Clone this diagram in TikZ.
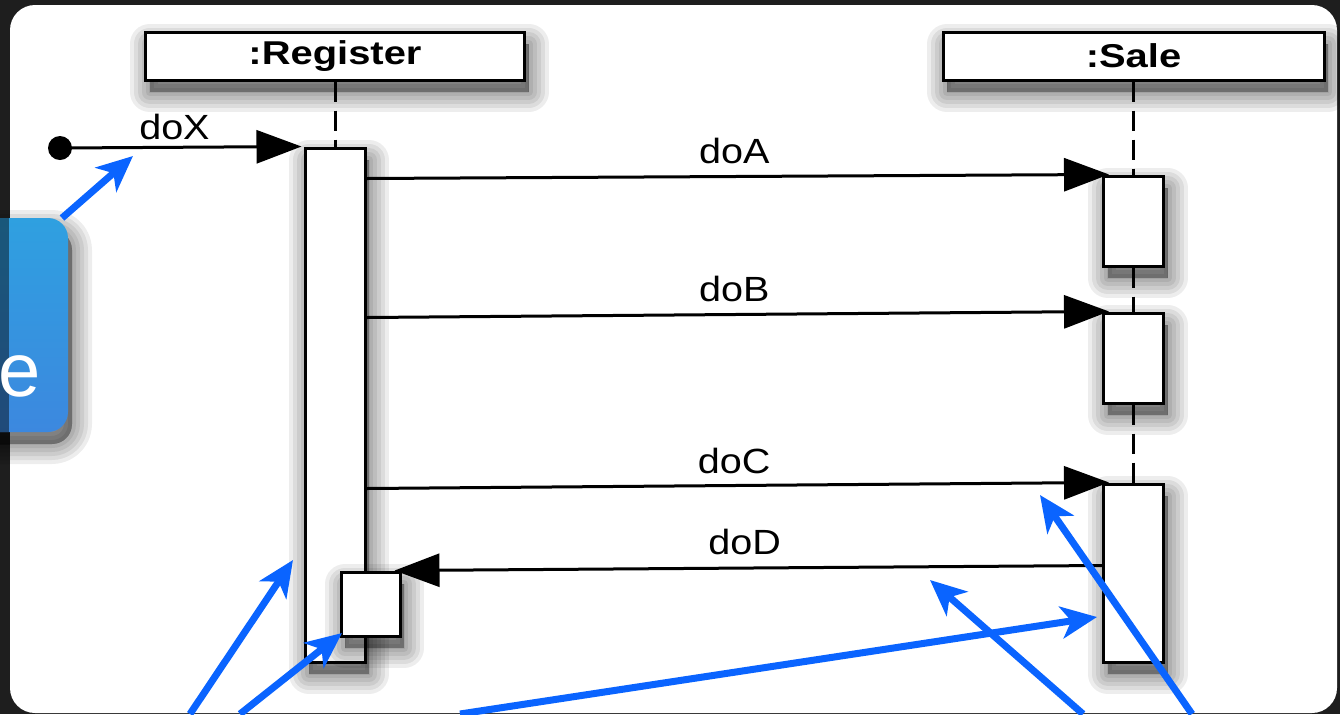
\documentclass[tikz,border=0pt]{standalone}
\usepackage{fontspec}
\setmainfont{Liberation Sans}
\newfontfamily\regf[FakeStretch=1.13]{Liberation Sans}
\newfontfamily\boldf[FakeStretch=1.21]{Liberation Sans}
\usetikzlibrary{arrows.meta,shadows,calc}
\definecolor{bgdark}{HTML}{1E1E1E}
\definecolor{arrblue}{HTML}{0A64FF}
\definecolor{callA}{HTML}{2FA0E0}
\definecolor{callB}{HTML}{3C88DF}
\begin{document}
\begin{tikzpicture}[x=0.5pt,y=-0.5pt,
  sl/.style={general shadow={fill=black, draw=black, line join=round, line width=#1, opacity=0.07, shadow xshift=2pt, shadow yshift=-6pt}},
  shad/.style={sl=20pt, sl=16pt, sl=12pt, sl=8pt, sl=4pt, sl=0.1pt},
  objbox/.style={draw=black, line width=1.5pt, fill=white, minimum height=24pt, inner sep=0pt,
     font=\boldf\bfseries\fontsize{16.5}{18}\selectfont, shad},
  actbox/.style={draw=black, line width=1.5pt, fill=white, inner sep=0pt, minimum width=30pt, shad},
  lifeline/.style={line width=1.5pt, dash pattern=on 10pt off 4.5pt},
  msgline/.style={line width=1.5pt, shorten >=-3.5pt, -{Triangle[length=22.5pt,width=16.5pt]}},
  msglab/.style={font=\regf\fontsize{17.5}{19}\selectfont, inner sep=0pt, anchor=base},
  hint/.style={draw=arrblue, line width=3.5pt, -{Stealth[length=18pt,width=16pt,inset=5pt]}}
]
\useasboundingbox (0,0) rectangle (1340,714);
\fill[bgdark] (0,0) rectangle (1340,714);
\fill[white, rounded corners=12.5pt] (10,5) rectangle (1337,713);

% object boxes
\node[objbox, minimum width=189.5pt] (reg) at (335,56) {:Register};
\node[objbox, minimum width=190.5pt] (sale) at (1133.5,56) {:Sale};

% activation bars
\node[actbox, minimum height=257pt] (rbar) at (335,405) {};
\node[actbox, minimum height=45pt] (actA) at (1133.5,221) {};
\node[actbox, minimum height=45pt] (actB) at (1133.5,358) {};
\node[actbox, minimum height=89pt] (actC) at (1133.5,573) {};
\node[actbox, minimum width=29.5pt, minimum height=32pt] (small) at (370.5,604) {};

% lifelines (segments between boxes)
\draw[lifeline] (reg.south) -- (rbar.north);
\draw[lifeline] (sale.south) -- (actA.north);
\draw[lifeline] (actA.south) -- (actB.north);
\draw[lifeline] (actB.south) -- (actC.north);

% start dot
\node[circle, fill=black, minimum size=12pt, inner sep=0pt] (start) at (60,148) {};

% messages
\draw[msgline, shorten >=1pt] (start.center) -- node[msglab, pos=0.47, yshift=4pt] {doX} (rbar.north west);
\draw[msgline] ($(rbar.north east)+(0,32)$) -- node[msglab, pos=0.5, yshift=6.5pt] {doA} (actA.north west);
\draw[msgline] ($(rbar.north east)+(0,171)$) -- node[msglab, pos=0.5, yshift=6.5pt] {doB} (actB.north west);
\draw[msgline] ($(rbar.north east)+(0,342)$) -- node[msglab, pos=0.5, yshift=6pt] {doC} (actC.north west);
\draw[msgline] ($(actC.north west)+(0,83)$) -- node[msglab, pos=0.51, yshift=7pt] {doD} (small.north east);

% callout
\begin{scope}
  \clip (0,0) rectangle (1340,714);
  \shade[top color=callA, bottom color=callB, rounded corners=10pt, shad] (-80,218) rectangle (68,432);
  \fill[black, opacity=0.45] (0,218) rectangle (9,432);
  \node[white, font=\fontsize{38}{40}\selectfont, inner sep=0pt, anchor=base east] (cword) at (41,396) {e};
\end{scope}
\coordinate (calltop) at (62,218);

% hint arrows
\coordinate (h1) at (133,156);
\coordinate (t2) at (190,714); \coordinate (h2) at (293,560);
\coordinate (t3) at (240,714); \coordinate (h3) at (342,633);
\coordinate (t4) at (460,714); \coordinate (h4) at (1097,617);
\coordinate (t5) at (1083,714); \coordinate (h5) at (930,580);
\coordinate (t6) at (1192,714); \coordinate (h6) at (1040,495);
\draw[hint] (calltop) -- (h1);
\draw[hint] (t2) -- (h2);
\draw[hint] (t3) -- (h3);
\draw[hint] (t4) -- (h4);
\draw[hint] (t5) -- (h5);
\draw[hint] (t6) -- (h6);
\end{tikzpicture}
\end{document}
